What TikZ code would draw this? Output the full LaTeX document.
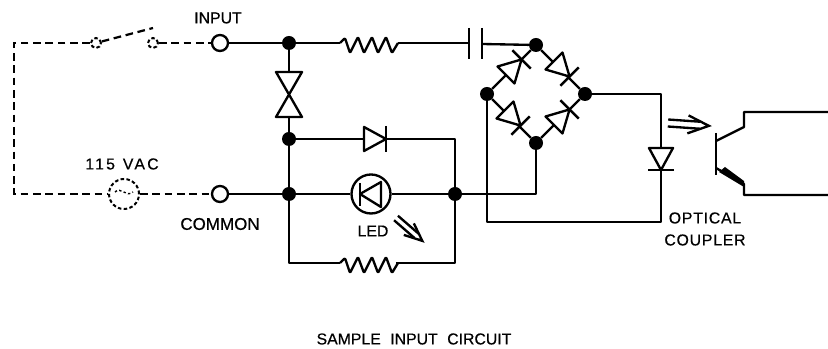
\documentclass[tikz,border=0pt]{standalone}
\usepackage{fontspec}
\setmainfont{Liberation Sans}

\tikzset{
  wire/.style={line width=2pt, line join=round},
  dashwire/.style={line width=1.9pt, dash pattern=on 6.5pt off 4pt},
  junction/.style={circle, fill=black, inner sep=0pt, minimum size=0.42cm},
  terminal/.style={circle, draw, fill=white, line width=2pt, inner sep=0pt, minimum size=0.48cm},
  contact/.style={circle, draw, line width=1.7pt, dash pattern=on 3pt off 2pt, inner sep=0pt, minimum size=0.3cm},
  label/.style={font=\fontsize{13.5}{16}\selectfont\addfontfeature{FakeBold=0.5}, inner sep=0pt},
  widelabel/.style={font=\fontsize{13.5}{16}\selectfont\addfontfeature{FakeBold=0.5,LetterSpace=5}, inner sep=0pt},
  pics/diodesym/.style={code={
    \draw [wire, fill=white] (0, -12) -- (22, 0) -- (0, 12) -- cycle;
    \draw [wire] (22, -13) -- (22, 13);
  }},
  pics/resistor/.style={code={
    \draw [wire, rounded corners=1pt] (0, 0) -- (5, -5) -- (10, 10) -- (18, -6) -- (24, 10) -- (32, -6) -- (38, 10)
      -- (46, -6) -- (52, 10) -- (58, 0);
  }},
  pics/lightarrow/.style={code={
    \draw [wire] (0, -3.5) -- (32, -3.5);
    \draw [wire] (0, 3.5) -- (32, 3.5);
    \draw [wire, line join=miter] (20, -9) -- (41, 0) -- (20, 9);
  }},
}

\begin{document}
\begin{tikzpicture}[x=0.03cm, y=-0.03cm]
  \useasboundingbox (0, 0) rectangle (828, 349);
  % terminals and junctions
  \node [terminal] (input) at (220, 43) {};
  \node [terminal] (common) at (220, 194) {};
  \node [junction] (jtop) at (289, 43) {};
  \node [junction] (jmid) at (289, 139) {};
  \node [junction] (jcom) at (289, 194) {};
  \node [junction] (jled) at (455, 194) {};
  \node [junction] (btop) at (536, 45) {};
  \node [junction] (bleft) at (487, 94) {};
  \node [junction] (bright) at (585, 94) {};
  \node [junction] (bbot) at (536, 143) {};
  % outer dashed loop
  \node [contact] (contacta) at (96, 43) {};
  \node [contact] (contactb) at (153, 43) {};
  \node [contact, minimum size=0.9cm] (source) at (124, 194) {};
  \coordinate (cornertop) at (14, 43);
  \coordinate (cornerbot) at (14, 194);
  \coordinate (bladeend) at (153, 28);
  \draw [dashwire] (contacta) -- (cornertop) -- (cornerbot) -- (source);
  \draw [dashwire] (contactb) -- (input);
  \draw [dashwire] (source) -- (common);
  \draw [dashwire] (contacta) -- (bladeend);
  \draw [line width=1.2pt, dash pattern=on 2pt off 2pt] (115, 192) .. controls (121, 186) and (126, 198) .. (133, 192);
  % input side wires
  \coordinate (rtopa) at (340, 43);
  \coordinate (rtopb) at (398, 43);
  \coordinate (capa) at (469, 43);
  \coordinate (capb) at (482, 44);
  \draw [wire] (input) -- (jtop) -- (rtopa);
  \draw [wire] (rtopb) -- (capa);
  \draw [wire] (capb) -- (btop);
  \draw [wire] (jtop) -- (jmid) -- (jcom) -- (common);
  \pic at (340, 43) {resistor};
  % capacitor plates
  \draw [wire] (469, 28) -- (469, 59);
  \draw [wire] (482, 28) -- (482, 59);
  % back to back diodes
  \draw [wire, fill=white] (276, 72) -- (302, 72) -- (276, 117) -- (302, 117) -- cycle;
  % parallel branches
  \coordinate (rbota) at (289, 263);
  \coordinate (rbotb) at (455, 263);
  \coordinate (jmidend) at (455, 139);
  \coordinate (bbotend) at (536, 194);
  \node [circle, draw, fill=white, line width=2pt, inner sep=0pt, minimum size=1.17cm] (led) at (371, 194) {};
  \draw [wire] (jmid) -- (jmidend) -- (jled);
  \draw [wire] (jcom) -- (led) -- (jled) -- (bbotend) -- (bbot);
  \draw [wire] (jcom) -- (rbota) -- (rbotb) -- (jled);
  \draw [white, line width=3.5pt] (340, 263) -- (396, 263);
  \pic at (340, 263) {resistor};
  \pic at (364, 139) {diodesym};
  % led symbol
  \draw [wire] (360, 183) -- (360, 206);
  \draw [wire] (381, 182) -- (360, 194) -- (381, 207) -- cycle;
  \pic [rotate=-41, scale=0.85] at (396, 218) {lightarrow};
  % bridge
  \draw [wire] (btop) -- (bleft) -- (bbot) -- (bright) -- (btop);
  \pic [rotate=45] at (506, 75) {diodesym};
  \pic [rotate=-45] at (554, 61) {diodesym};
  \pic [rotate=-45] at (505, 110) {diodesym};
  \pic [rotate=45] at (554, 125) {diodesym};
  % optical coupler
  \coordinate (coupa) at (661, 94);
  \coordinate (coupb) at (661, 222);
  \coordinate (coupc) at (487, 222);
  \draw [wire] (bright) -- (coupa) -- (coupb) -- (coupc) -- (bleft);
  \pic [rotate=-90] at (661, 148) {diodesym};
  \pic [rotate=-4] at (668, 123) {lightarrow};
  % transistor
  \coordinate (tca) at (716, 141);
  \coordinate (tcb) at (744, 127);
  \coordinate (tcc) at (744, 112);
  \coordinate (tcd) at (828, 112);
  \coordinate (tea) at (716, 168);
  \coordinate (teb) at (744, 184);
  \coordinate (tec) at (744, 195);
  \coordinate (ted) at (828, 195);
  \draw [wire] (716, 133) -- (716, 175);
  \draw [wire] (tca) -- (tcb) -- (tcc) -- (tcd);
  \draw [wire] (tea) -- (teb) -- (tec) -- (ted);
  \fill (719, 172) -- (725, 167) -- (744, 181) -- (744, 187) -- cycle;
  % labels
  \node [label] (lblinput) at (218, 18) {INPUT};
  \node [widelabel, font=\fontsize{13.5}{16}\selectfont\addfontfeature{FakeBold=0.5,LetterSpace=14}] (lblvac) at (122, 164) {115\hspace{0.5em}VAC};
  \node [widelabel, font=\fontsize{14.5}{16}\selectfont\addfontfeature{FakeBold=0.5}] (lblcommon) at (220, 224) {COMMON};
  \node [label] (lblled) at (373, 231) {LED};
  \node [widelabel] (lbloptical) at (705, 218) {OPTICAL};
  \node [widelabel] (lblcoupler) at (705, 240) {COUPLER};
  \node [label] (lbltitle) at (414, 339) {SAMPLE\hspace{0.6em}INPUT\hspace{0.6em}CIRCUIT};
\end{tikzpicture}
\end{document}
